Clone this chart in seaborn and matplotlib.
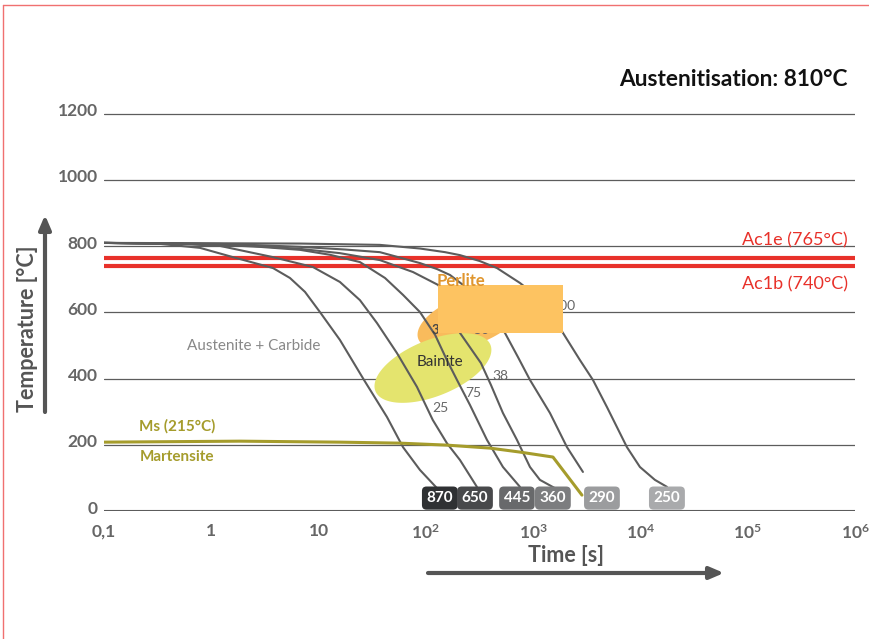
import numpy as np
import pandas as pd
import matplotlib
matplotlib.use("Agg")
import matplotlib.pyplot as plt
import matplotlib.transforms as mtransforms
import seaborn as sns
from matplotlib.lines import Line2D

# Abkuehlkurven (Zeit in s, Temperatur in °C)
hardness = ["870", "650", "445", "360", "290", "250"]
box_colors = ["#2f3133", "#48494b", "#68696b", "#7c7d7f", "#9b9c9e", "#a9aaac"]
box_time = [135, 287, 706, 1528, 4378, 17660]

t_870 = [0.1, 0.333, 0.785, 1.59, 3.76, 5.41, 7.47, 10.3, 15.8, 26.5, 43.4, 61.2, 88.1, 127]
T_870 = [810, 807, 795, 767, 734, 704, 662, 601, 517, 396, 284, 193, 124, 69]

t_650 = [0.1, 0.51, 1.20, 3.76, 8.87, 15.8, 24.3, 35.0, 53.8, 82.6, 116, 157, 208, 299]
T_650 = [810, 807, 801, 767, 737, 692, 637, 568, 477, 375, 275, 205, 154, 73]

t_445 = [0.1, 0.785, 2.84, 6.71, 12.8, 24.3, 41.6, 61.2, 88.1, 122, 157, 195, 258, 371, 523, 753]
T_445 = [810, 807, 798, 789, 774, 752, 704, 653, 601, 532, 456, 396, 320, 215, 133, 73]

t_360 = [0.1, 1.2, 6.71, 15.8, 37.3, 75.8, 130, 175, 208, 326, 404, 523, 706, 934, 1157, 1597]
T_360 = [810, 807, 792, 779, 758, 722, 683, 622, 538, 447, 381, 296, 215, 133, 94, 69]

t_290 = [0.1, 2.30, 6.71, 17.6, 37.3, 88.1, 127, 168, 222, 356, 546, 722, 934, 1435, 2066, 2912]
T_290 = [810, 804, 798, 790, 782, 749, 731, 713, 683, 607, 538, 465, 396, 296, 193, 118]

t_250 = [0.1, 6.71, 37.3, 88.1, 151, 208, 319, 460, 753, 1040, 1435, 1897, 2730, 3607, 4875,
         7482, 9890, 13650, 17660]
T_250 = [810, 808, 804, 793, 782, 773, 755, 734, 689, 653, 598, 538, 456, 396, 314,
         193, 133, 94, 73]

# Martensit-Startlinie
t_ms = [0.1, 1.85, 15.8, 57.4, 157, 396, 753, 1530, 2850]
T_ms = [208, 211, 208, 205, 199, 190, 178, 163, 48]

# Umwandlungsanteile (%) an den Kurven
pct_labels = ["25", "75", "38", "50", "100"]
pct_time = [138, 275, 491, 326, 2506]
pct_temp = [311, 356, 408, 547, 619]

ac1e, ac1b = 765, 740
y_ticks = [0, 200, 400, 600, 800, 1000, 1200]
x_ticks = [0.1, 1, 10, 1e2, 1e3, 1e4, 1e5, 1e6]
x_labels = ["0,1", "1", "10", r"$\mathregular{10^2}$", r"$\mathregular{10^3}$",
            r"$\mathregular{10^4}$", r"$\mathregular{10^5}$", r"$\mathregular{10^6}$"]

curves = pd.concat([
    pd.DataFrame({"time": t, "temp": T, "curve": h})
    for h, t, T in zip(hardness,
                       [t_870, t_650, t_445, t_360, t_290, t_250],
                       [T_870, T_650, T_445, T_360, T_290, T_250])
])

sns.set_theme(style="white")
plt.rcParams["font.family"] = ["Lato", "DejaVu Sans"]
plt.rcParams["mathtext.fontset"] = "custom"
plt.rcParams["mathtext.rm"] = "Lato"

W, H = 870, 639
fig = plt.figure(figsize=(W / 100, H / 100), dpi=100)
ax = fig.add_axes([104 / W, 128 / H, 751 / W, 430.3 / H])

grey = "#5c5c5c"
red = "#e8312a"
olive = "#a59c2c"


def ellipse(log_c, T_c, u, v, n=120):
    # Ellipse in (log10 Zeit, Temperatur)-Koordinaten
    phi = np.linspace(0, 2 * np.pi, n)
    lx = log_c + u[0] * np.cos(phi) + v[0] * np.sin(phi)
    ly = T_c + u[1] * np.cos(phi) + v[1] * np.sin(phi)
    return 10 ** lx, ly


# Perlit- und Bainitbereiche
px_, py_ = ellipse(2.411, 577, (0.482, 56.8), (-0.080, 71.0))
ax.fill(px_, py_, color="#f9bb5c", lw=0, zorder=1)
bx, by = ellipse(2.066, 432, (0.536, 70.1), (-0.098, 78.5))
ax.fill(bx, by, color="#e4e46e", lw=0, zorder=1.5)

# Gitterlinien und Ac1-Linien
for y in y_ticks:
    ax.axhline(y, color=grey, lw=1.5 if y == 0 else 0.9, zorder=0.5)
ax.axhline(ac1e, color=red, lw=3, zorder=2)
ax.axhline(ac1b, color=red, lw=3, zorder=2)

sns.lineplot(data=curves, x="time", y="temp", units="curve", estimator=None,
             color=grey, lw=1.5, sort=False, ax=ax, zorder=3, legend=False)
ax.plot(t_ms, T_ms, color=olive, lw=2.2, zorder=3)

ax.set_xscale("log")
ax.set_xlim(0.1, 1e6)
ax.set_ylim(0, 1300)
ax.set_xticks(x_ticks)
ax.set_xticklabels(x_labels)
ax.set_yticks(y_ticks)
ax.set_yticklabels([str(v) for v in y_ticks])
ax.minorticks_off()
ax.tick_params(length=0, labelsize=12.5, labelcolor="#666666")
ax.tick_params(axis="y", pad=4.5)
ax.tick_params(axis="x", pad=9)
ax.set_xlabel("")
ax.set_ylabel("")
sns.despine(ax=ax, left=True, bottom=True)

# Perlit-Abdeckung
ax.fill_between([130, 1897], 538, 683, color="#fdc361", lw=0, zorder=5)

# Beschriftungen im Diagramm
for lab, t, T in zip(pct_labels, pct_time, pct_temp):
    ax.text(t, T, lab, fontsize=10, color="#666666", ha="right" if lab == "100" else "center",
            va="center", zorder=4)
ax.text(122, 547, "3", fontsize=9.5, color="#444444", fontweight="bold", ha="center", va="center", zorder=4)
ax.text(135, 450, "Bainite", fontsize=11, color="#333333", ha="center", va="center", zorder=4)
ax.text(212, 695, "Perlite", fontsize=12, color="#e0962e", fontweight="bold", ha="center", va="center", zorder=6)
ax.text(2.5, 498, "Austenite + Carbide", fontsize=11, color="#888888", ha="center", va="center", zorder=4)
ax.text(0.212, 257, "Ms (215°C)", fontsize=11, color=olive, fontweight="bold", va="center", zorder=4)
ax.text(0.216, 163, "Martensite", fontsize=11, color=olive, fontweight="bold", va="center", zorder=4)
ax.text(8.6e5, 819, "Ac1e (765°C)", fontsize=13, color=red, ha="right", va="center", zorder=4)
ax.text(8.6e5, 686, "Ac1b (740°C)", fontsize=13, color=red, ha="right", va="center", zorder=4)

for h, c, t in zip(hardness, box_colors, box_time):
    ax.text(t, 39, h, fontsize=11, color="white", fontweight="bold", ha="center", va="center",
            zorder=6, bbox=dict(boxstyle="round,pad=0.3,rounding_size=0.3", fc=c, ec="none"))


def fx(x):
    return x / W


def fy(y):
    return 1 - y / H


fig.text(fx(848), fy(80), "Austenitisation: 810°C", fontsize=16.3, fontweight="bold",
         color="#111111", ha="right", va="center")
fig.text(fx(28), fy(329), "Temperature [°C]", fontsize=15.5, fontweight="bold", color="#555555",
         rotation=90, ha="center", va="center")
fig.text(fx(566), fy(556), "Time [s]", fontsize=15.5, fontweight="bold", color="#555555",
         ha="center", va="center")

arrow = dict(arrowstyle="-|>,head_length=0.7,head_width=0.3", lw=3, color="#555555",
             shrinkA=0, shrinkB=0)
ax.annotate("", xy=(fx(45), fy(215)), xytext=(fx(45), fy(412)), xycoords="figure fraction",
            arrowprops=arrow, annotation_clip=False)
ax.annotate("", xy=(fx(724), fy(573)), xytext=(fx(428), fy(573)), xycoords="figure fraction",
            arrowprops=arrow, annotation_clip=False)

# roter Rahmen
fig.add_artist(Line2D([fx(3), fx(3)], [0, fy(5)], transform=fig.transFigure, color="#f07070", lw=1))
fig.add_artist(Line2D([fx(3), 1], [fy(5), fy(5)], transform=fig.transFigure, color="#f07070", lw=1))

# Y-Beschriftungen etwas ueber den Gitterlinien
lift = mtransforms.ScaledTranslation(0, 4 / 100, fig.dpi_scale_trans)
for lab in ax.get_yticklabels():
    lab.set_transform(lab.get_transform() + lift)
for lab in ax.get_xticklabels() + ax.get_yticklabels():
    lab.set_fontweight("bold")

fig.savefig("out.png", dpi=100)
